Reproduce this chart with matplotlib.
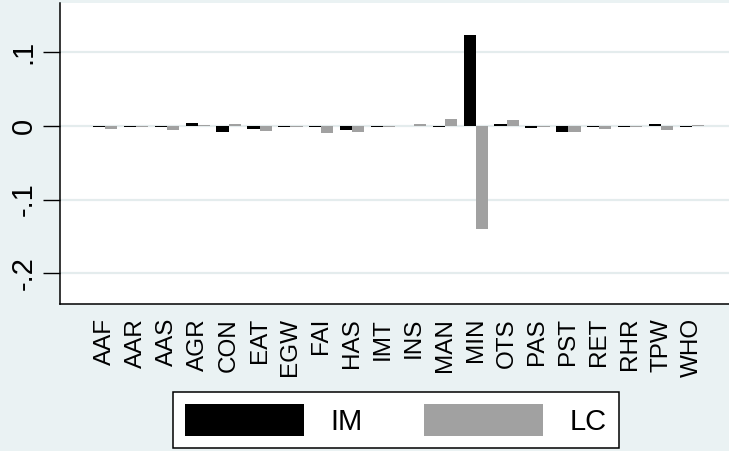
import matplotlib
matplotlib.use("Agg")
import matplotlib.pyplot as plt
import numpy as np

categories = ["AAF", "AAR", "AAS", "AGR", "CON", "EAT", "EGW", "FAI", "HAS", "IMT",
              "INS", "MAN", "MIN", "OTS", "PAS", "PST", "RET", "RHR", "TPW", "WHO"]
im_values = [-0.001, -0.001, -0.001, 0.004, -0.008, -0.004, -0.001, -0.001, -0.006, -0.001,
             0.0, -0.001, 0.123, 0.003, -0.003, -0.009, -0.001, -0.002, 0.003, -0.001]
lc_values = [-0.004, -0.002, -0.0055, 0.001, 0.002, -0.007, -0.002, -0.010, -0.009, -0.001,
             0.002, 0.0095, -0.140, 0.008, -0.001, -0.009, -0.004, -0.001, -0.006, 0.001]
series_names = ["IM", "LC"]
yticks = [-0.2, -0.1, 0.0, 0.1]
ytick_labels = ["-.2", "-.1", "0", ".1"]

plt.rcParams['font.family'] = ['Liberation Sans', 'DejaVu Sans']

BG = "#eaf2f3"
GRAY = "#a1a1a1"

W, H = 729, 451
fig = plt.figure(figsize=(W / 100, H / 100), dpi=100, facecolor=BG)
ax = fig.add_axes([60 / W, 1 - 304 / H, (737 - 60) / W, (304 - 3) / H])
ax.set_facecolor("white")

x = np.arange(len(categories))
bw = 0.395
b1 = ax.bar(x - bw / 2, im_values, width=bw, color="black", linewidth=0, zorder=3, label=series_names[0])
b2 = ax.bar(x + bw / 2, lc_values, width=bw, color=GRAY, linewidth=0, zorder=3, label=series_names[1])

ax.set_xlim(-1.46, len(categories) - 1 + 1.46)
ax.set_ylim(-0.2416, 0.1665)

ax.set_yticks(yticks)
ax.set_yticklabels(ytick_labels, rotation=90, va="center", fontsize=21)
ax.tick_params(axis="y", length=12, width=1, pad=4, color="black")
ax.set_xticks(x)
ax.set_xticklabels(categories, rotation=90, fontsize=17.5, va="top", ha="center")
ax.tick_params(axis="x", length=0, pad=10)

ax.yaxis.grid(True, color="#e4eced", linewidth=1.6, zorder=0)
ax.set_axisbelow(True)

for s in ["top", "right"]:
    ax.spines[s].set_visible(False)
for s in ["left", "bottom"]:
    ax.spines[s].set_linewidth(1.1)
    ax.spines[s].set_color("black")

leg = fig.legend(handles=[b1, b2], labels=series_names, ncol=2,
                 loc="upper left", bbox_to_anchor=(173 / W, 1 - 392 / H),
                 bbox_transform=fig.transFigure, fontsize=21, frameon=True,
                 fancybox=False, edgecolor="black", facecolor="white", framealpha=1,
                 handlelength=4.08, handleheight=1.3, handletextpad=0.9,
                 columnspacing=2.1, borderpad=0.42, borderaxespad=0)
leg.get_frame().set_linewidth(1.1)

fig.savefig("out.png", dpi=100, facecolor=BG)
